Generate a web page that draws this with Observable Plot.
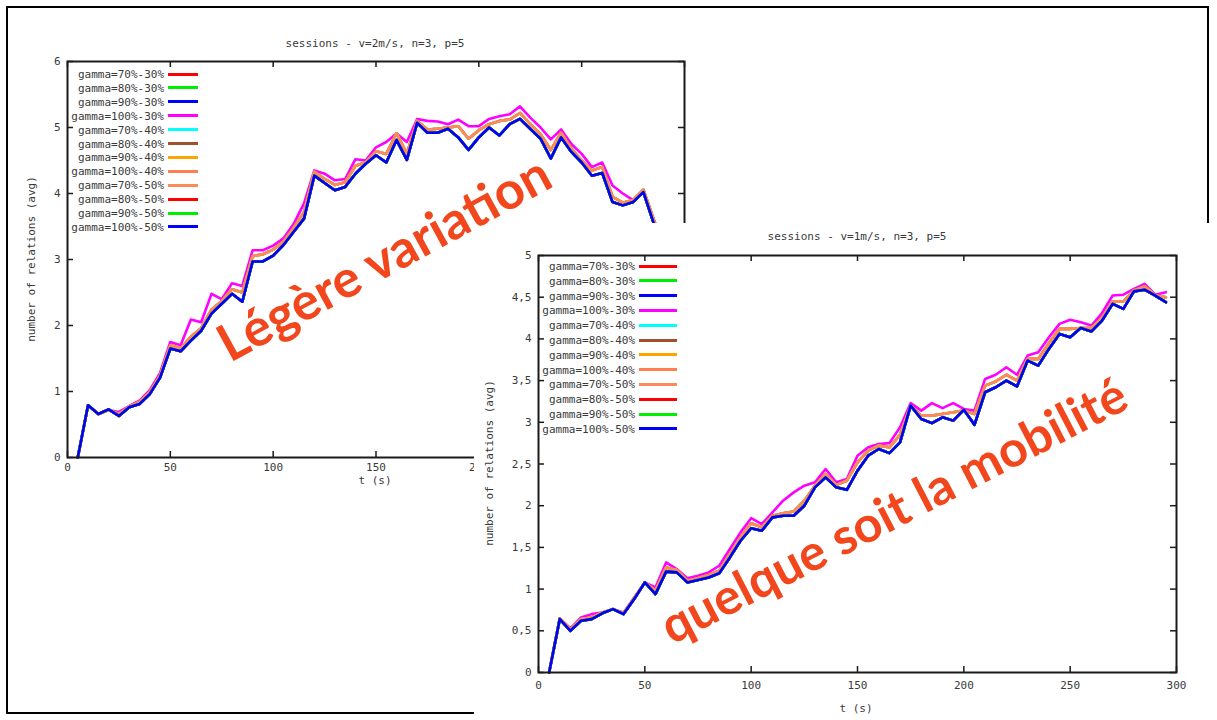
<!DOCTYPE html>
<html><head><meta charset="utf-8">
<script src="https://cdn.jsdelivr.net/npm/d3@7"></script>
<script src="https://cdn.jsdelivr.net/npm/@observablehq/plot@0.6"></script>
<style>
body{margin:0;background:#fff;}
#stage{position:relative;width:1217px;height:720px;overflow:hidden;background:#fff;}
.abs{position:absolute;}
.gp{position:absolute;font-family:"DejaVu Sans Mono",monospace;font-size:11px;color:#3a3a3a;white-space:nowrap;line-height:1;}
</style></head><body><div id="stage"></div>
<script>
// ---------- data ----------
const xTicks = [0, 50, 100, 150, 200, 250, 300];
const yTicks1 = [0, 1, 2, 3, 4, 5, 6];
const yTicks2 = [0, 0.5, 1, 1.5, 2, 2.5, 3, 3.5, 4, 4.5, 5];

const seriesNames = ["gamma=70%-30%","gamma=80%-30%","gamma=90%-30%","gamma=100%-30%",
  "gamma=70%-40%","gamma=80%-40%","gamma=90%-40%","gamma=100%-40%",
  "gamma=70%-50%","gamma=80%-50%","gamma=90%-50%","gamma=100%-50%"];
const seriesColors = ["#ff0000","#00ee00","#0000ff","#ff00ff","#00ffff","#a0522d",
  "#ffa500","#ff7f50","#fa8c5c","#ff0000","#00ee00","#0000ff"];
// which measured curve each series follows (series hidden under others share values)
const seriesCurve = ["low","low","low","high","mid","mid","mid","mid","mid","low","low","low"];

// chart 1 : v=2m/s
const t1 = [5,10,15,20,25,30,35,40,45,50,55,60,65,70,75,80,85,90,95,100,105,110,115,120,125,130,135,140,145,150,
  155,160,165,170,175,180,185,190,195,200,205,210,215,220,225,230,235,240,245,250,255,260,265,270,275,280,285,290];
const c1Low = [0,0.79,0.66,0.73,0.63,0.76,0.81,0.96,1.21,1.65,1.61,1.77,1.92,2.18,2.33,2.48,2.36,2.97,2.97,3.06,
  3.22,3.42,3.62,4.27,4.16,4.05,4.10,4.30,4.45,4.58,4.47,4.81,4.51,5.07,4.92,4.92,4.98,4.85,4.66,4.85,
  5.00,4.88,5.05,5.13,4.98,4.83,4.53,4.85,4.63,4.47,4.27,4.31,3.87,3.82,3.87,4.02,3.55,3.10];
const c1Mid = [0,0.79,0.66,0.72,0.66,0.77,0.84,0.99,1.24,1.70,1.65,1.83,1.96,2.24,2.37,2.55,2.50,3.05,3.08,3.15,
  3.27,3.48,3.72,4.33,4.22,4.13,4.17,4.42,4.47,4.64,4.60,4.91,4.60,5.10,4.97,4.98,5.00,5.02,4.83,4.96,
  5.05,5.10,5.12,5.22,5.05,4.90,4.66,4.92,4.68,4.50,4.35,4.40,3.95,3.86,3.90,4.06,3.60,3.15];
const c1High = [0,0.79,0.66,0.72,0.69,0.78,0.86,1.02,1.28,1.75,1.70,2.09,2.05,2.48,2.40,2.64,2.60,3.14,3.14,3.21,
  3.32,3.54,3.85,4.35,4.30,4.20,4.22,4.52,4.50,4.70,4.78,4.91,4.78,5.13,5.10,5.09,5.05,5.12,5.02,5.02,
  5.13,5.17,5.20,5.32,5.15,5.00,4.82,4.97,4.75,4.60,4.40,4.47,4.12,4.00,3.90,4.05,3.62,3.20];

// chart 2 : v=1m/s
const t2 = [5,10,15,20,25,30,35,40,45,50,55,60,65,70,75,80,85,90,95,100,105,110,115,120,125,130,135,140,145,150,
  155,160,165,170,175,180,185,190,195,200,205,210,215,220,225,230,235,240,245,250,255,260,265,270,275,280,285,290,295];
const c2Low = [0,0.64,0.50,0.62,0.64,0.71,0.76,0.70,0.88,1.08,0.94,1.21,1.20,1.08,1.11,1.14,1.19,1.38,1.58,1.73,
  1.70,1.86,1.88,1.88,2.00,2.22,2.34,2.22,2.19,2.42,2.60,2.68,2.63,2.76,3.20,3.04,2.99,3.06,3.02,3.15,
  2.97,3.36,3.42,3.50,3.43,3.74,3.68,3.88,4.06,4.02,4.13,4.09,4.22,4.42,4.36,4.57,4.59,4.52,4.44];
const c2Mid = [0,0.65,0.52,0.64,0.66,0.72,0.76,0.71,0.89,1.08,0.98,1.26,1.23,1.10,1.13,1.17,1.22,1.42,1.62,1.79,
  1.74,1.88,1.91,1.93,2.06,2.24,2.38,2.25,2.30,2.52,2.66,2.72,2.70,2.85,3.20,3.08,3.08,3.10,3.12,3.14,
  3.10,3.44,3.49,3.57,3.50,3.76,3.76,3.95,4.12,4.12,4.13,4.13,4.25,4.45,4.45,4.58,4.63,4.52,4.50];
const c2High = [0,0.65,0.53,0.66,0.70,0.72,0.76,0.72,0.90,1.08,1.02,1.32,1.24,1.13,1.16,1.20,1.28,1.48,1.68,1.85,
  1.78,1.92,2.06,2.16,2.24,2.28,2.44,2.28,2.32,2.60,2.70,2.74,2.75,2.94,3.23,3.14,3.23,3.17,3.23,3.16,
  3.14,3.52,3.57,3.66,3.57,3.80,3.84,4.02,4.18,4.23,4.20,4.16,4.31,4.52,4.53,4.60,4.66,4.53,4.56];

// ---------- helpers ----------
const stage = document.getElementById("stage");
function rowsFor(t, curves) {
  const rows = [];
  seriesNames.forEach((name, i) => {
    const vals = curves[seriesCurve[i]];
    t.forEach((tt, j) => rows.push({series: name, color: seriesColors[i], t: tt, v: vals[j]}));
  });
  return rows;
}
function addText(parent, txt, x, y, opts = {}) {
  const d = document.createElement("div");
  d.className = "gp";
  d.textContent = txt;
  d.style.left = x + "px"; d.style.top = y + "px";
  let tr = "translate(-50%,-50%)";
  if (opts.rotate) tr += ` rotate(${opts.rotate}deg)`;
  d.style.transform = tr;
  parent.appendChild(d);
  return d;
}
function addLegend(parent, xRight, lineX1, lineX2, y0, dy) {
  seriesNames.forEach((name, i) => {
    const d = document.createElement("div");
    d.className = "gp";
    d.textContent = name;
    d.style.right = (1217 - xRight) + "px";
    d.style.top = (y0 + i * dy) + "px";
    d.style.transform = "translateY(-50%)";
    parent.appendChild(d);
    const l = document.createElement("div");
    l.className = "abs";
    l.style.left = lineX1 + "px"; l.style.width = (lineX2 - lineX1) + "px";
    l.style.top = (y0 + i * dy - 1.5) + "px"; l.style.height = "3px";
    l.style.background = seriesColors[i];
    parent.appendChild(l);
  });
}
function makeChart({width, height, ml, mt, mr, mb, yDomain, yTicks, t, curves, tickFmt, xPad, yPad}) {
  const innerW = width - ml - mr, innerH = height - mt - mb;
  const tk = {stroke: "#1a1a1a", strokeWidth: 1.5};
  return Plot.plot({
    width, height, marginLeft: ml, marginTop: mt, marginRight: mr, marginBottom: mb,
    x: {domain: [0, 300]},
    y: {domain: yDomain},
    color: {type: "identity"},
    style: {fontFamily: "DejaVu Sans Mono, monospace", fontSize: "11px", color: "#3a3a3a", background: "transparent", overflow: "visible"},
    marks: [
      Plot.line(rowsFor(t, curves), {x: "t", y: "v", z: "series", stroke: "color", strokeWidth: 2.6, strokeLinejoin: "round"}),
      Plot.ruleX(xTicks, {x: d => d, insetTop: innerH - 6, ...tk}),
      Plot.ruleX(xTicks, {x: d => d, insetBottom: innerH - 6, ...tk}),
      Plot.ruleY(yTicks, {y: d => d, insetRight: innerW - 6, ...tk}),
      Plot.ruleY(yTicks, {y: d => d, insetLeft: innerW - 6, ...tk}),
      Plot.frame({stroke: "#1a1a1a", strokeWidth: 2}),
      Plot.axisX({ticks: xTicks, tickSize: 0, tickPadding: xPad, label: null}),
      Plot.axisY({ticks: yTicks, tickSize: 0, tickPadding: yPad, label: null, tickFormat: tickFmt})
    ]
  });
}

// ---------- outer frame ----------
const frame = document.createElement("div");
frame.className = "abs";
Object.assign(frame.style, {left: "6px", top: "6px", width: "1203px", height: "708px", border: "2px solid #000", boxSizing: "border-box"});
stage.appendChild(frame);

// ---------- chart 1 ----------
const svg1 = makeChart({width: 700, height: 495, ml: 67, mt: 61, mr: 16, mb: 38,
  yDomain: [0, 6], yTicks: yTicks1, t: t1, curves: {low: c1Low, mid: c1Mid, high: c1High},
  tickFmt: d => String(d), xPad: 6, yPad: 7});
svg1.style.position = "absolute"; svg1.style.left = "0px"; svg1.style.top = "0px";
stage.appendChild(svg1);
addText(stage, "sessions - v=2m/s, n=3, p=5", 375, 43);
addText(stage, "t (s)", 375, 480);
addText(stage, "number of relations (avg)", 31, 259, {rotate: -90});
addLegend(stage, 164, 168, 198, 74, 13.9);

// ---------- chart 2 panel ----------
const panel = document.createElement("div");
panel.className = "abs";
Object.assign(panel.style, {left: "474px", top: "223px", width: "743px", height: "497px", background: "#fff"});
stage.appendChild(panel);
const svg2 = makeChart({width: 743, height: 497, ml: 64, mt: 32, mr: 41, mb: 48,
  yDomain: [0, 5], yTicks: yTicks2, t: t2, curves: {low: c2Low, mid: c2Mid, high: c2High},
  tickFmt: d => String(d).replace(".", ","), xPad: 9, yPad: 7});
svg2.style.position = "absolute"; svg2.style.left = "0px"; svg2.style.top = "0px";
panel.appendChild(svg2);
addText(stage, "sessions - v=1m/s, n=3, p=5", 857, 236);
addText(stage, "t (s)", 856, 708);
addText(stage, "number of relations (avg)", 489, 463, {rotate: -90});
addLegend(stage, 635, 639, 677, 266, 14.8);

// ---------- annotation overlay ----------
const NS = "http://www.w3.org/2000/svg";
const ov = document.createElementNS(NS, "svg");
ov.setAttribute("width", 1217); ov.setAttribute("height", 720);
Object.assign(ov.style, {position: "absolute", left: "0px", top: "0px", pointerEvents: "none"});
function note(txt, x, y, angle, size) {
  const tx = document.createElementNS(NS, "text");
  tx.setAttribute("x", x); tx.setAttribute("y", y);
  tx.setAttribute("transform", `rotate(${angle} ${x} ${y})`);
  tx.setAttribute("font-family", "Lato, 'Open Sans', sans-serif");
  tx.setAttribute("font-weight", "700");
  tx.setAttribute("font-size", size);
  tx.setAttribute("fill", "#f2461c");
  tx.textContent = txt;
  ov.appendChild(tx);
}
note("Légère variation", 230, 363, -28.6, 52);
note("quelque soit la mobilité", 672, 645, -27.4, 50);
stage.appendChild(ov);
</script></body></html>
